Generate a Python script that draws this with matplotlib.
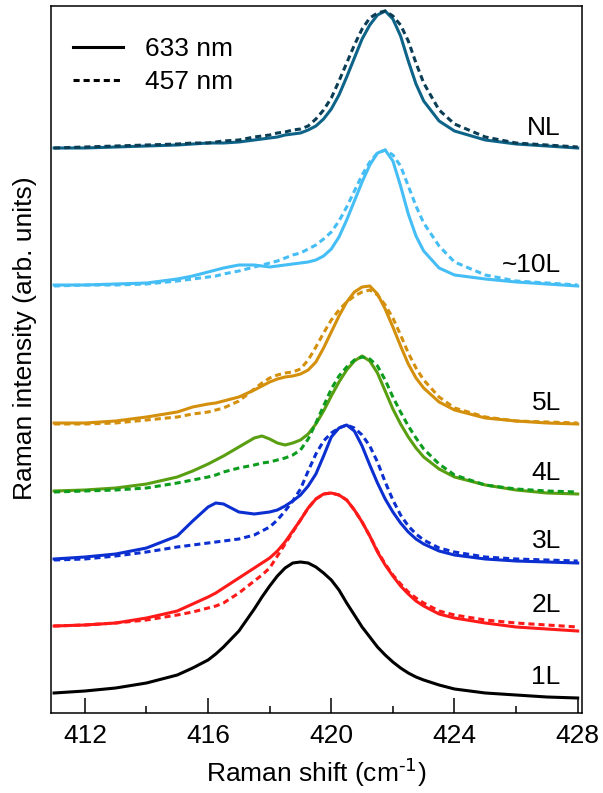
import matplotlib
matplotlib.use("Agg")
import matplotlib.pyplot as plt
from matplotlib.lines import Line2D

plt.rcParams['font.family'] = ['Liberation Sans', 'DejaVu Sans']
plt.rcParams['mathtext.default'] = 'regular'

# Raman shift sample positions (cm^-1)
shift = [411, 412, 413, 414, 415, 415.5, 416, 416.25, 416.5, 417, 417.5, 417.75,
         418, 418.25, 418.5, 418.75, 419, 419.25, 419.5, 419.75, 420, 420.25,
         420.5, 420.75, 421, 421.25, 421.5, 421.75, 422, 422.25, 422.5, 422.75,
         423, 423.5, 424, 425, 426, 427, 428]

# stacked intensities (arb. units, offset included)
L1_633 = [0.20, 0.22, 0.25, 0.30, 0.38, 0.45, 0.53, 0.59, 0.66, 0.82, 1.04, 1.16,
          1.27, 1.37, 1.45, 1.50, 1.51, 1.50, 1.46, 1.40, 1.33, 1.23,
          1.10, 0.98, 0.86, 0.76, 0.66, 0.58, 0.51, 0.45, 0.40, 0.36,
          0.33, 0.28, 0.24, 0.20, 0.18, 0.16, 0.15]

L2_633 = [0.87, 0.88, 0.90, 0.95, 1.02, 1.09, 1.16, 1.20, 1.25, 1.35, 1.45, 1.50,
          1.55, 1.62, 1.71, 1.82, 1.93, 2.05, 2.14, 2.19, 2.20, 2.18,
          2.13, 2.03, 1.91, 1.77, 1.61, 1.48, 1.37, 1.27, 1.19, 1.12,
          1.07, 0.99, 0.95, 0.90, 0.86, 0.84, 0.82]
L2_457 = [0.87, 0.88, 0.90, 0.93, 0.98, 1.01, 1.05, 1.07, 1.10, 1.20, 1.32, 1.38,
          1.45, 1.57, 1.69, 1.81, 1.93, 2.05, 2.14, 2.19, 2.20, 2.18,
          2.13, 2.03, 1.91, 1.77, 1.62, 1.49, 1.38, 1.29, 1.21, 1.15,
          1.10, 1.02, 0.98, 0.93, 0.90, 0.88, 0.86]

L3_633 = [1.54, 1.56, 1.59, 1.65, 1.77, 1.92, 2.06, 2.10, 2.09, 2.01, 1.99, 2.00,
          2.01, 2.03, 2.07, 2.12, 2.18, 2.27, 2.39, 2.57, 2.76, 2.85,
          2.88, 2.82, 2.67, 2.48, 2.30, 2.14, 2.01, 1.90, 1.81, 1.74,
          1.69, 1.62, 1.58, 1.54, 1.52, 1.51, 1.50]
L3_457 = [1.53, 1.54, 1.57, 1.61, 1.66, 1.68, 1.70, 1.71, 1.72, 1.74, 1.78, 1.82,
          1.86, 1.93, 2.02, 2.12, 2.24, 2.42, 2.59, 2.72, 2.80, 2.85,
          2.88, 2.85, 2.78, 2.67, 2.51, 2.31, 2.13, 1.98, 1.87, 1.79,
          1.73, 1.65, 1.61, 1.56, 1.54, 1.53, 1.52]

L4_633 = [2.22, 2.23, 2.25, 2.29, 2.36, 2.42, 2.49, 2.53, 2.57, 2.66, 2.75, 2.77,
          2.74, 2.70, 2.68, 2.70, 2.73, 2.79, 2.89, 3.02, 3.17, 3.31,
          3.43, 3.52, 3.57, 3.52, 3.40, 3.22, 3.04, 2.89, 2.76, 2.65,
          2.56, 2.44, 2.36, 2.28, 2.23, 2.20, 2.19]
L4_457 = [2.21, 2.22, 2.23, 2.25, 2.30, 2.33, 2.36, 2.38, 2.41, 2.45, 2.48, 2.50,
          2.51, 2.53, 2.55, 2.58, 2.63, 2.74, 2.90, 3.07, 3.24, 3.37,
          3.46, 3.53, 3.56, 3.54, 3.47, 3.33, 3.16, 3.01, 2.87, 2.75,
          2.64, 2.49, 2.38, 2.28, 2.24, 2.22, 2.21]

L5_633 = [2.90, 2.90, 2.92, 2.96, 3.01, 3.06, 3.09, 3.10, 3.12, 3.16, 3.23, 3.27,
          3.31, 3.34, 3.36, 3.37, 3.39, 3.43, 3.51, 3.65, 3.81, 3.97,
          4.11, 4.21, 4.26, 4.27, 4.19, 4.04, 3.86, 3.67, 3.49, 3.35,
          3.25, 3.11, 3.03, 2.95, 2.92, 2.90, 2.89]
L5_457 = [2.89, 2.89, 2.90, 2.93, 2.96, 2.99, 3.01, 3.03, 3.05, 3.12, 3.24, 3.30,
          3.35, 3.38, 3.40, 3.41, 3.44, 3.53, 3.66, 3.80, 3.93, 4.03,
          4.11, 4.17, 4.21, 4.23, 4.18, 4.08, 3.95, 3.78, 3.60, 3.45,
          3.33, 3.16, 3.05, 2.96, 2.92, 2.91, 2.90]

L10_633 = [4.28, 4.28, 4.29, 4.30, 4.34, 4.37, 4.41, 4.43, 4.45, 4.48, 4.48, 4.47,
           4.46, 4.47, 4.48, 4.49, 4.50, 4.51, 4.53, 4.57, 4.64, 4.76,
           4.93, 5.12, 5.31, 5.48, 5.60, 5.63, 5.52, 5.27, 4.99, 4.77,
           4.62, 4.45, 4.38, 4.34, 4.31, 4.29, 4.27]
L10_457 = [4.27, 4.28, 4.28, 4.29, 4.32, 4.34, 4.36, 4.37, 4.39, 4.42, 4.46, 4.48,
           4.50, 4.52, 4.55, 4.58, 4.60, 4.64, 4.68, 4.74, 4.81, 4.92,
           5.06, 5.22, 5.38, 5.51, 5.60, 5.63, 5.58, 5.47, 5.27, 5.07,
           4.90, 4.67, 4.51, 4.38, 4.32, 4.30, 4.28]

NL_633 = [5.65, 5.65, 5.66, 5.67, 5.68, 5.69, 5.70, 5.70, 5.70, 5.71, 5.73, 5.74,
          5.75, 5.76, 5.78, 5.79, 5.80, 5.83, 5.87, 5.94, 6.04, 6.18,
          6.36, 6.55, 6.74, 6.88, 6.98, 7.02, 6.94, 6.77, 6.52, 6.29,
          6.12, 5.92, 5.82, 5.73, 5.69, 5.67, 5.65]
NL_457 = [5.65, 5.66, 5.67, 5.68, 5.69, 5.70, 5.70, 5.71, 5.72, 5.73, 5.76, 5.77,
          5.78, 5.80, 5.81, 5.83, 5.84, 5.87, 5.94, 6.03, 6.15, 6.32,
          6.50, 6.68, 6.84, 6.95, 7.00, 7.02, 6.97, 6.88, 6.72, 6.50,
          6.30, 6.03, 5.89, 5.76, 5.70, 5.68, 5.66]

layer_names = ['1L', '2L', '3L', '4L', '5L', '~10L', 'NL']
label_y = [0.29, 1.01, 1.65, 2.33, 3.03, 4.41, 5.78]

solid_series = [L1_633, L2_633, L3_633, L4_633, L5_633, L10_633, NL_633]
dashed_series = [None, L2_457, L3_457, L4_457, L5_457, L10_457, NL_457]
solid_colors = ['#000000', '#ff1a1a', '#0b2fd0', '#5a9e12', '#d4900c', '#45bdf5', '#0e6389']
dashed_colors = [None, '#ff1a1a', '#0b2fd0', '#0c9c1e', '#d4900c', '#45bdf5', '#0b3d55']

fig = plt.figure(figsize=(6.03, 7.93), dpi=100)
ax = fig.add_axes([51 / 603, 80 / 793, 531 / 603, 707 / 793])

LW = 2.2
DASH = (2.0, 1.3)
for ys, c in zip(solid_series, solid_colors):
    ax.plot(shift, ys, color=c, lw=LW, solid_joinstyle='round', zorder=2)
for ys, c in zip(dashed_series, dashed_colors):
    if ys is None:
        continue
    ax.plot(shift, ys, color=c, lw=LW, linestyle=(0, DASH), zorder=3)

for name, yl in zip(layer_names, label_y):
    ax.text(427.45, yl, name, ha='right', va='baseline', fontsize=19)

ax.set_xlim(410.9, 428.14)
ax.set_ylim(0, 7.07)
ax.set_xticks([412, 416, 420, 424, 428])
ax.set_xticks([414, 418, 422, 426], minor=True)
ax.set_yticks([])
ax.tick_params(axis='x', which='major', direction='in', length=10.8, width=1.1,
               labelsize=19, pad=8)
ax.tick_params(axis='x', which='minor', direction='in', length=5, width=1.1)
for s in ax.spines.values():
    s.set_linewidth(1.1)

ax.set_xlabel(r'Raman shift (cm$^{\text{-1}}$)', fontsize=19, labelpad=6)
ax.set_ylabel('Raman intensity (arb. units)', fontsize=19)
ax.yaxis.set_label_coords(-0.026, 0.53)

handles = [Line2D([], [], color='black', lw=LW),
           Line2D([], [], color='black', lw=LW, linestyle=(0, DASH))]
ax.legend(handles, ['633 nm', '457 nm'], loc='upper left',
          bbox_to_anchor=(0.041, 0.956), frameon=False, fontsize=19,
          handlelength=1.9, handletextpad=0.85, labelspacing=0.35,
          borderpad=0, borderaxespad=0)

fig.savefig('out.png', dpi=100)
